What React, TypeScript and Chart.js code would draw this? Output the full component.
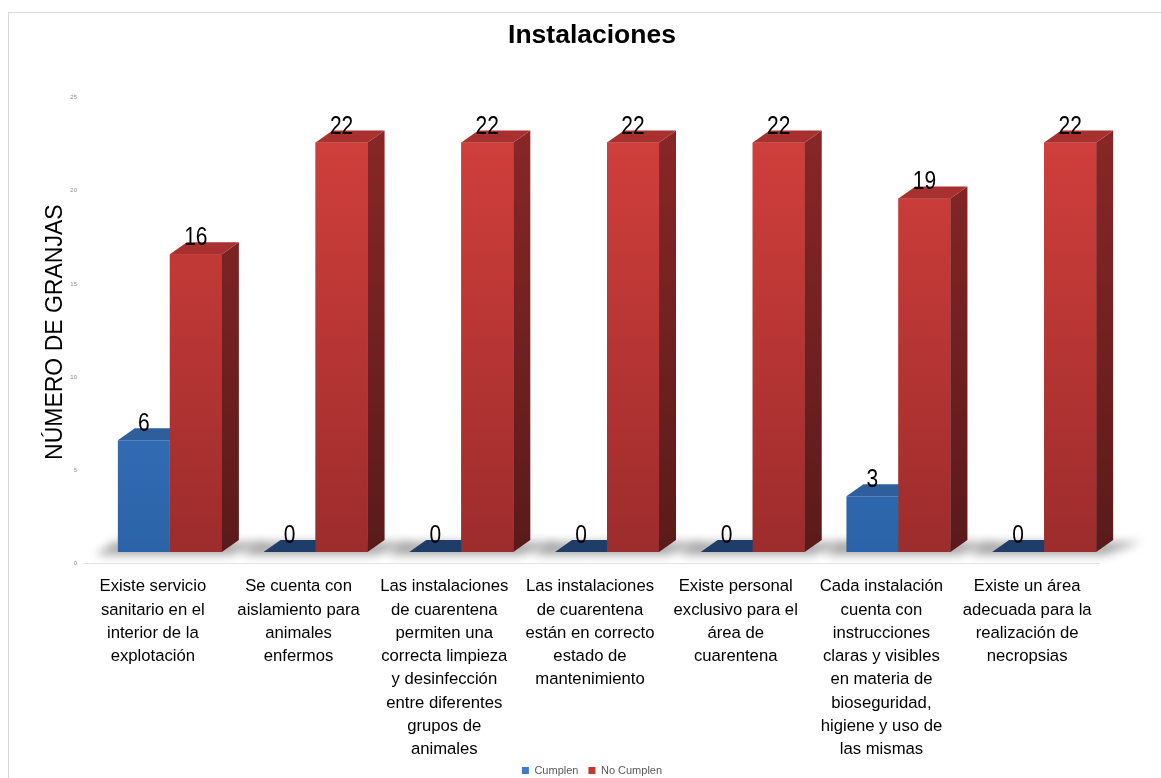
import React, { useEffect, useRef } from "react";
import { Chart, registerables } from "chart.js";

Chart.register(...registerables);

const categories: string[][] = [
  ["Existe servicio", "sanitario en el", "interior de la", "explotación"],
  ["Se cuenta con", "aislamiento para", "animales", "enfermos"],
  ["Las instalaciones", "de cuarentena", "permiten una", "correcta limpieza", "y desinfección", "entre diferentes", "grupos de", "animales"],
  ["Las instalaciones", "de cuarentena", "están en correcto", "estado de", "mantenimiento"],
  ["Existe personal", "exclusivo para el", "área de", "cuarentena"],
  ["Cada instalación", "cuenta con", "instrucciones", "claras y visibles", "en materia de", "bioseguridad,", "higiene y uso de", "las mismas"],
  ["Existe un área", "adecuada para la", "realización de", "necropsias"],
];
const seriesNames = ["Cumplen", "No Cumplen"];
const cumplen = [6, 0, 0, 0, 0, 3, 0];
const noCumplen = [16, 22, 22, 22, 22, 19, 22];
const yTicks = [0, 5, 10, 15, 20, 25];

const SANS = "'Liberation Sans', Arial, sans-serif";

const DX = 17;
const DY = -12;

const styles = [
  { front: ["#4386d6", "#2c63a8"], side: ["#2b5a96", "#1d3f6e"], top: "#2e5e9c", zeroTop: "#1f3d69", legend: "#3b7bc8" },
  { front: ["#d6413d", "#9d2c2c"], side: ["#8d2828", "#5a1a1a"], top: "#a8312f", zeroTop: "#7a2222", legend: "#c0392b" },
];

function gradient(chart: any, colors: string[]) {
  const area = chart.chartArea;
  if (!area) return colors[0];
  const g = chart.ctx.createLinearGradient(0, area.top, 0, area.bottom);
  g.addColorStop(0, colors[0]);
  g.addColorStop(1, colors[1]);
  return g;
}

function frontFill(dsIndex: number) {
  return (ctx: any) => gradient(ctx.chart, styles[dsIndex].front);
}

const threeD = {
  id: "threeD",
  beforeDatasetsDraw(chart: any) {
    const ctx = chart.ctx;
    const m0 = chart.getDatasetMeta(0);
    const m1 = chart.getDatasetMeta(1);
    ctx.save();
    ctx.filter = "blur(5px)";
    m0.data.forEach((b0: any, i: number) => {
      const b1 = m1.data[i];
      const left = b0.x - b0.width / 2;
      const right = b1.x + b1.width / 2;
      const base = b0.base;
      ctx.fillStyle = "rgba(0,0,0,0.34)";
      ctx.beginPath();
      ctx.moveTo(left - 22, base + 3);
      ctx.lineTo(right + 8, base + 3);
      ctx.lineTo(right + DX + 28, base + DY + 2);
      ctx.lineTo(left - 4, base + DY + 2);
      ctx.closePath();
      ctx.fill();
    });
    ctx.restore();
  },
  afterDatasetsDraw(chart: any) {
    const ctx = chart.ctx;
    ctx.save();
    [0, 1].forEach((di) => {
      const s = styles[di];
      const meta = chart.getDatasetMeta(di);
      meta.data.forEach((bar: any) => {
        const l = bar.x - bar.width / 2;
        const r = bar.x + bar.width / 2;
        const top = bar.y;
        const base = bar.base;
        if (base - top > 0.5) {
          if (di === 1) {
            ctx.fillStyle = gradient(chart, s.front);
            ctx.fillRect(l, top, r - l, base - top);
          }
          ctx.fillStyle = gradient(chart, s.side);
          ctx.beginPath();
          ctx.moveTo(r, top);
          ctx.lineTo(r + DX, top + DY);
          ctx.lineTo(r + DX, base + DY);
          ctx.lineTo(r, base);
          ctx.closePath();
          ctx.fill();
          ctx.fillStyle = s.top;
        } else {
          ctx.fillStyle = s.zeroTop;
        }
        ctx.beginPath();
        ctx.moveTo(l, top);
        ctx.lineTo(r, top);
        ctx.lineTo(r + DX, top + DY);
        ctx.lineTo(l + DX, top + DY);
        ctx.closePath();
        ctx.fill();
      });
    });
    ctx.restore();
  },
  afterDraw(chart: any) {
    const ctx = chart.ctx;
    const area = chart.chartArea;
    ctx.save();
    ctx.strokeStyle = "#e3e3e3";
    ctx.lineWidth = 1;
    ctx.beginPath();
    ctx.moveTo(area.left - 14, Math.round(area.bottom + 11) + 0.5);
    ctx.lineTo(area.right - 17, Math.round(area.bottom + 11) + 0.5);
    ctx.stroke();

    ctx.fillStyle = "#000";
    ctx.font = "25px " + SANS;
    ctx.textAlign = "center";
    ctx.textBaseline = "middle";
    chart.data.datasets.forEach((ds: any, di: number) => {
      const meta = chart.getDatasetMeta(di);
      meta.data.forEach((bar: any, i: number) => {
        ctx.save();
        ctx.translate(bar.x, bar.y - 16);
        ctx.scale(0.84, 1);
        ctx.fillText(String(ds.data[i]), 0, 0);
        ctx.restore();
      });
    });
    ctx.restore();
  },
};

export default function App() {
  const ref = useRef<HTMLCanvasElement | null>(null);

  useEffect(() => {
    if (!ref.current) return;
    const chart = new Chart(ref.current, {
      type: "bar",
      data: {
        labels: categories,
        datasets: [
          { label: seriesNames[0], data: cumplen, backgroundColor: frontFill(0), borderWidth: 0 },
          { label: seriesNames[1], data: noCumplen, backgroundColor: frontFill(1), borderWidth: 0 },
        ],
      },
      options: {
        animation: false,
        responsive: true,
        maintainAspectRatio: false,
        layout: { padding: { left: 58, right: 44, top: 0, bottom: 0 } },
        datasets: { bar: { categoryPercentage: 0.714, barPercentage: 1 } },
        scales: {
          x: {
            grid: { display: false, drawTicks: false },
            border: { display: false },
            ticks: {
              autoSkip: false,
              maxRotation: 0,
              minRotation: 0,
              padding: 23,
              labelOffset: -17,
              color: "#000",
              font: { size: 16.7, family: SANS, lineHeight: 1.395 },
            },
            afterFit: (s: any) => {
              s.height = 203;
            },
          },
          y: {
            min: 0,
            max: 25,
            afterBuildTicks: (s: any) => {
              s.ticks = yTicks.map((v) => ({ value: v }));
            },
            grid: { display: false, drawTicks: false },
            border: { display: false },
            ticks: {
              padding: 20,
              labelOffset: 11,
              color: "#8c8c8c",
              font: { size: 6, family: SANS },
            },
            title: {
              display: true,
              text: "NÚMERO DE GRANJAS    ",
              color: "#000",
              font: { size: 23, family: SANS },
              padding: { top: -25, bottom: 0 },
            },
            afterFit: (s: any) => {
              s.width = 30;
            },
          },
        },
        plugins: {
          title: {
            display: true,
            text: "Instalaciones",
            color: "#000",
            font: { size: 26.5, weight: "bold", family: SANS },
            padding: { top: 7, bottom: 35 },
          },
          legend: {
            position: "bottom",
            labels: {
              boxWidth: 7,
              boxHeight: 7,
              padding: 10,
              color: "#595959",
              font: { size: 11, family: SANS },
              generateLabels: () =>
                seriesNames.map((n, i) => ({
                  text: n,
                  fillStyle: styles[i].legend,
                  strokeStyle: styles[i].legend,
                  lineWidth: 0,
                  hidden: false,
                  datasetIndex: i,
                  fontColor: "#595959",
                })),
            },
          },
          tooltip: { enabled: false },
        },
      },
      plugins: [threeD],
    });
    return () => chart.destroy();
  }, []);

  return (
    <div
      style={{
        position: "fixed",
        left: 8,
        top: 12,
        width: 1153,
        height: 774,
        borderLeft: "1px solid #d9d9d9",
        borderTop: "1px solid #d9d9d9",
        background: "#fff",
        boxSizing: "border-box",
      }}
    >
      <div style={{ position: "relative", width: 1152, height: 773 }}>
        <canvas ref={ref} />
      </div>
    </div>
  );
}
